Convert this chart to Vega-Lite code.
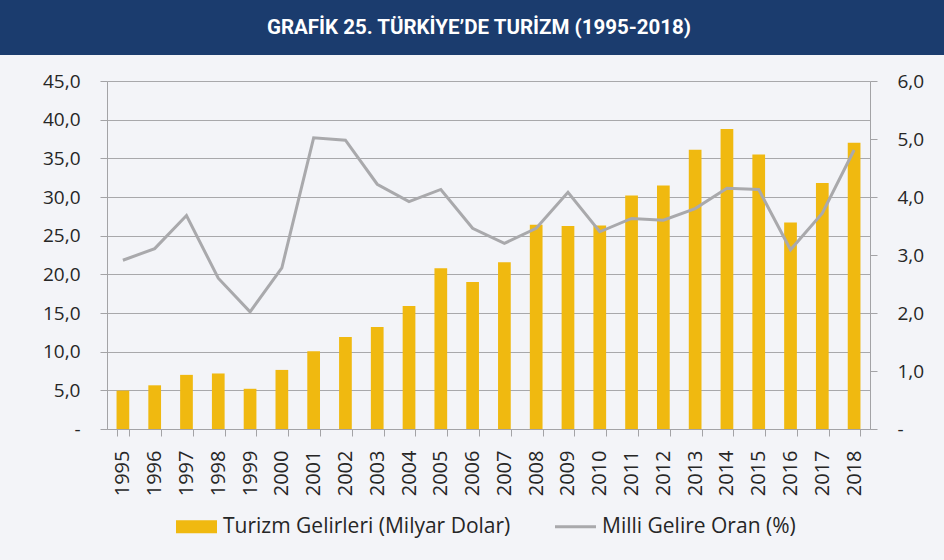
{
  "$schema": "https://vega.github.io/schema/vega-lite/v6.json",
  "background": "#f3f4f8",
  "padding": {"left": 0, "top": 0, "right": 0, "bottom": 25},
  "spacing": 17,
  "config": {
    "font": "Open Sans",
    "view": {"stroke": null},
    "axis": {"labelFont": "Open Sans", "labelColor": "#262626", "domainColor": "#a3a3a6", "tickColor": "#a3a3a6", "gridColor": "#a8a8ab", "titleFont": "Open Sans"}
  },
  "vconcat": [
    {
      "width": 944,
      "height": 55,
      "data": {"values": [{"t": "GRAFİK 25. TÜRKİYE’DE TURİZM (1995-2018)"}]},
      "view": {"fill": "#1b3c6e", "stroke": null},
      "mark": {"type": "text", "font": "Roboto", "fontWeight": "bold", "fontSize": 20.5, "color": "#ffffff", "align": "center", "baseline": "middle", "dx": 7},
      "encoding": {"text": {"field": "t", "type": "nominal"}}
    },
    {
      "spacing": 0,
      "hconcat": [
        {
          "width": 1,
          "height": 1,
          "data": {"values": []},
          "mark": {"type": "text", "text": ""},
          "encoding": {}
        },
        {
          "width": 763,
          "height": 348,
          "data": {
            "values": [
              {"year": "1995", "gelir": 4.96, "oran": 2.91},
              {"year": "1996", "gelir": 5.65, "oran": 3.11},
              {"year": "1997", "gelir": 7.0, "oran": 3.68},
              {"year": "1998", "gelir": 7.18, "oran": 2.6},
              {"year": "1999", "gelir": 5.2, "oran": 2.02},
              {"year": "2000", "gelir": 7.64, "oran": 2.78},
              {"year": "2001", "gelir": 10.07, "oran": 5.02},
              {"year": "2002", "gelir": 11.9, "oran": 4.98},
              {"year": "2003", "gelir": 13.2, "oran": 4.22},
              {"year": "2004", "gelir": 15.9, "oran": 3.92},
              {"year": "2005", "gelir": 20.8, "oran": 4.13},
              {"year": "2006", "gelir": 19.0, "oran": 3.46},
              {"year": "2007", "gelir": 21.55, "oran": 3.2},
              {"year": "2008", "gelir": 26.4, "oran": 3.46},
              {"year": "2009", "gelir": 26.25, "oran": 4.08},
              {"year": "2010", "gelir": 26.3, "oran": 3.4},
              {"year": "2011", "gelir": 30.2, "oran": 3.63},
              {"year": "2012", "gelir": 31.5, "oran": 3.6},
              {"year": "2013", "gelir": 36.1, "oran": 3.8},
              {"year": "2014", "gelir": 38.8, "oran": 4.15},
              {"year": "2015", "gelir": 35.5, "oran": 4.13},
              {"year": "2016", "gelir": 26.7, "oran": 3.09},
              {"year": "2017", "gelir": 31.8, "oran": 3.72},
              {"year": "2018", "gelir": 37.0, "oran": 4.81}
            ]
          },
          "encoding": {
            "x": {
              "field": "year", "type": "ordinal",
              "scale": {"paddingInner": 0.6, "paddingOuter": 0.3},
              "axis": {"title": null, "labelAngle": -90, "labelFontSize": 20, "tickBand": "extent", "tickSize": 7, "labelPadding": 14, "domainColor": "#a3a3a6"}
            }
          },
          "layer": [
            {
              "mark": {"type": "bar", "color": "#f0b910"},
              "encoding": {
                "y": {
                  "field": "gelir", "type": "quantitative",
                  "scale": {"domain": [0, 45], "nice": false},
                  "axis": {"title": null, "values": [0, 5, 10, 15, 20, 25, 30, 35, 40, 45], "grid": true, "tickSize": 7, "labelPadding": 20, "labelFontSize": 19, "minExtent": 106, "maxExtent": 106,
                    "labelExpr": "datum.value == 0 ? '-' : replace(format(datum.value, '.1f'), '.', ',')"}
                },
                "color": {
                  "datum": "Turizm Gelirleri (Milyar Dolar)",
                  "scale": {"domain": ["Turizm Gelirleri (Milyar Dolar)", "Milli Gelire Oran (%)"], "range": ["#f0b910", "#a9a9ac"]},
                  "legend": {
                    "title": null, "orient": "none", "direction": "horizontal", "legendX": 186, "legendY": 516,
                    "labelFontSize": 21, "labelFont": "Open Sans", "labelColor": "#262626", "labelOffset": 16, "columnPadding": 38, "labelLimit": 500,
                    "symbolSize": 1681, "padding": 0,
                    "encode": {
                      "symbols": {
                        "update": {
                          "shape": {"signal": "datum.value === 'Milli Gelire Oran (%)' ? 'M-1,0H1' : 'M-1,-0.317H1V0.317H-1Z'"},
                          "fill": {"signal": "datum.value === 'Milli Gelire Oran (%)' ? 'transparent' : '#f0b910'"},
                          "stroke": {"signal": "datum.value === 'Milli Gelire Oran (%)' ? '#a9a9ac' : 'transparent'"},
                          "strokeWidth": {"signal": "datum.value === 'Milli Gelire Oran (%)' ? 3 : 0"},
                          "opacity": {"value": 1},
                          "fillOpacity": {"value": 1},
                          "strokeOpacity": {"value": 1}
                        }
                      }
                    }
                  }
                }
              }
            },
            {
              "mark": {"type": "line", "strokeWidth": 3, "color": "#a9a9ac"},
              "encoding": {
                "y": {
                  "field": "oran", "type": "quantitative",
                  "scale": {"domain": [0, 6], "nice": false},
                  "axis": {"title": null, "orient": "right", "values": [0, 1, 2, 3, 4, 5, 6], "grid": false, "tickSize": 7, "labelPadding": 20, "labelFontSize": 19,
                    "labelExpr": "datum.value == 0 ? '-' : replace(format(datum.value, '.1f'), '.', ',')"}
                },
                "color": {"datum": "Milli Gelire Oran (%)"}
              }
            }
          ],
          "resolve": {"scale": {"y": "independent"}}
        }
      ]
    }
  ]
}
